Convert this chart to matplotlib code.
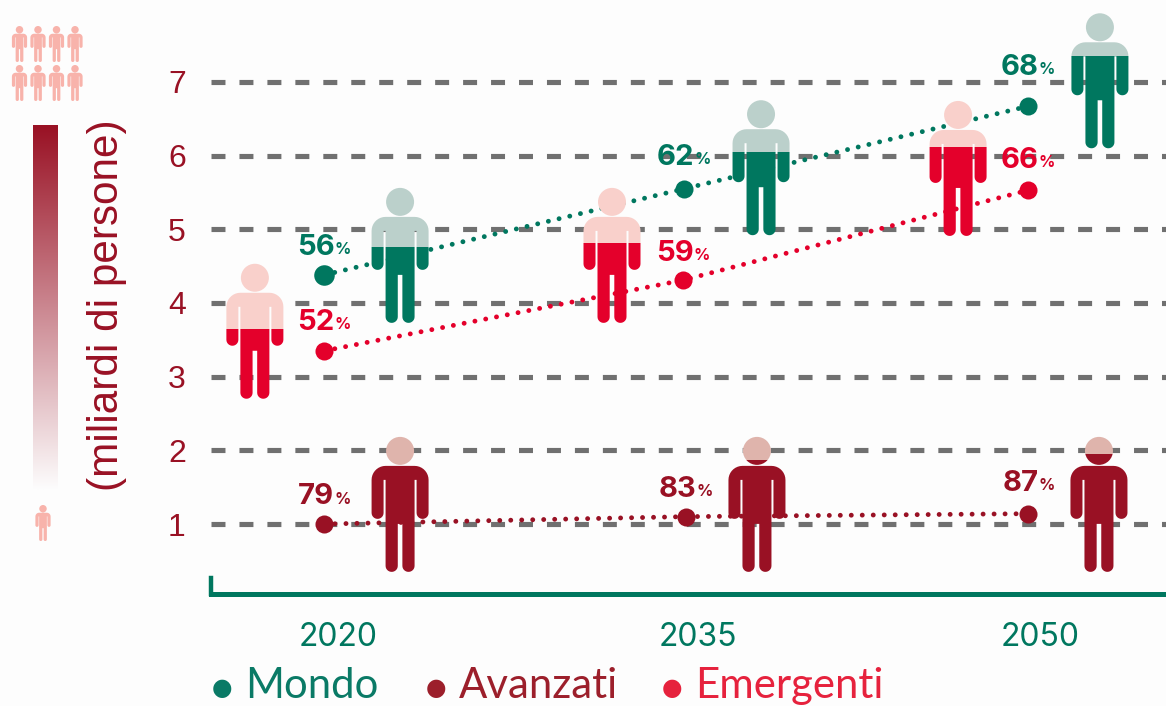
import matplotlib

matplotlib.use("Agg")

import matplotlib.pyplot as plt
import numpy as np
from matplotlib.path import Path
from matplotlib.patches import PathPatch
from matplotlib.transforms import Affine2D
from matplotlib.colors import LinearSegmentedColormap

plt.rcParams["font.family"] = ["Inter", "DejaVu Sans"]

# data
years = ["2020", "2035", "2050"]
world_x = [2020, 2035, 2049.33]
world = [4.38, 5.55, 6.67]
world_pct = [56, 62, 68]
advanced_x = [2020, 2035.08, 2049.33]
advanced = [1.0, 1.10, 1.14]
advanced_pct = [79, 83, 87]
emerging_x = [2020, 2034.96, 2049.33]
emerging = [3.35, 4.31, 5.53]
emerging_pct = [52, 59, 66]
yticks = [1, 2, 3, 4, 5, 6, 7]
year_ticks = [2020.58, 2035.58, 2049.83]

# people: where they stand (x, value at the feet)
world_people_x = [2023.17, 2038.21, 2052.33]
world_people_y = [3.73, 4.92, 6.10]
advanced_people_x = [2023.17, 2038.04, 2052.29]
advanced_people_y = [0.35, 0.35, 0.35]
emerging_people_x = [2017.12, 2032.0, 2046.42]
emerging_people_y = [2.70, 3.73, 4.91]

GREEN, GREEN_L = "#00775F", "#BBD0CB"
DARK, DARK_L = "#991124", "#DFB4AC"
RED, RED_L = "#E4002B", "#F9D0CB"
ICON = "#F8B3AB"
BG = "#FDFDFD"

W, H = 1166, 706
PX_X = 24.0
PX_Y = 73.67

fig = plt.figure(figsize=(W / 100, H / 100), dpi=100, facecolor=BG)
ax = fig.add_axes([211 / W, (H - 594) / H, (W - 211) / W, 594 / H], facecolor="none")
ax.set_xlim(2020 + (211 - 324) / PX_X, 2020 + (W - 324) / PX_X)
ax.set_ylim(1 + (524 - 594) / PX_Y, 1 + 524 / PX_Y)


def person_path():
    # outline in pixels, feet on y=0, 135 high
    t = np.linspace(0, np.pi, 14)
    pts = []
    pts += list(zip(-22.5 - 6 * np.cos(t), 59 - 6 * np.sin(t)))
    pts += [(-16.5, 92), (-14.5, 92), (-14.5, 6)]
    pts += list(zip(-8.4 - 6.1 * np.cos(t), 6 - 6 * np.sin(t)))
    pts += [(-2.3, 48), (2.3, 48), (2.3, 6)]
    pts += list(zip(8.4 - 6.1 * np.cos(t), 6 - 6 * np.sin(t)))
    pts += [(14.5, 92), (16.5, 92), (16.5, 59)]
    pts += list(zip(22.5 - 6 * np.cos(t), 59 - 6 * np.sin(t)))
    # shoulders
    a = np.linspace(0, np.pi / 2, 10)
    pts += list(zip(14.5 + 14 * np.cos(a), 92 + 14 * np.sin(a)))
    pts += list(zip(-14.5 - 14 * np.sin(a), 92 + 14 * np.cos(a)))
    pts.append(pts[0])
    body = Path(np.array(pts), closed=True)
    head = Path.circle((0, 121), 14)
    return Path.make_compound_path(body, head)


PERSON = person_path()


def draw_person(axis, x, y, pct, dark, light):
    px = axis.transData.transform((x, y))
    tr = Affine2D().translate(*px)
    cut = 135 * pct / 100
    for color, lo, hi in ((light, cut, 140), (dark, -2, cut)):
        patch = PathPatch(PERSON, facecolor=color, edgecolor="none",
                          transform=tr, zorder=4)
        axis.add_patch(patch)
        patch.set_clip_path(Path([(-40, lo), (40, lo), (40, hi), (-40, hi), (-40, lo)]), tr)


def draw_icon(px_x, px_y, scale=36 / 135):
    tr = Affine2D().scale(scale).translate(px_x, H - px_y)
    fig.add_artist(PathPatch(PERSON, facecolor=ICON, edgecolor="none", transform=tr))


# grid and axes
ax.set_yticks(yticks)
ax.set_yticklabels([str(v) for v in yticks], fontsize=23, color=DARK, ha="left",
                   family="Liberation Sans")
ax.set_xticks(year_ticks)
ax.set_xticklabels(years, fontsize=23, color=GREEN)
ax.tick_params(axis="y", length=0, pad=31)
ax.tick_params(axis="x", length=0, pad=20)
ax.grid(axis="y", color="#707070", linewidth=3.7, linestyle=(0, (2.72, 2.72)), zorder=1)
ax.set_axisbelow(True)
for side in ("top", "right"):
    ax.spines[side].set_visible(False)
ax.spines["bottom"].set_color(GREEN)
ax.spines["bottom"].set_linewidth(3.6)
ax.spines["left"].set_color(GREEN)
ax.spines["left"].set_linewidth(3.2)
ax.spines["left"].set_bounds(1 + (524 - 594) / PX_Y, 1 + (524 - 578) / PX_Y)

# dotted trend lines with the share of urban people over each point
series = [
    (world_x, world, world_pct, GREEN, [27, 31, 39], 14.8),
    (advanced_x, advanced, advanced_pct, DARK, [27, 27, 30], 13),
    (emerging_x, emerging, emerging_pct, RED, [28, 27, 30], 13),
]
for xs, ys, pcts, color, dys, msize in series:
    ax.plot(xs, ys, color=color, linewidth=3.5, linestyle=(0, (0.01, 2.25)),
            dash_capstyle="round", zorder=2)
    for i in range(3):
        ax.plot(xs[i], ys[i], "o", color=color, markersize=msize if i == 0 else 13,
                markeredgewidth=0, zorder=3)
        ax.annotate(str(pcts[i]), (xs[i], ys[i]), xytext=(7.5, dys[i] * 0.72), textcoords="offset points",
                    ha="right", va="center", fontsize=21, fontweight="bold", color=color, zorder=6)
        ax.annotate("%", (xs[i], ys[i]), xytext=(7.5, (dys[i] - 2) * 0.72), textcoords="offset points",
                    ha="left", va="center", fontsize=11.5, fontweight="bold", color=color, zorder=6)

# people
for i in range(3):
    draw_person(ax, world_people_x[i], world_people_y[i], world_pct[i], GREEN, GREEN_L)
    draw_person(ax, advanced_people_x[i], advanced_people_y[i], advanced_pct[i], DARK, DARK_L)
    draw_person(ax, emerging_people_x[i], emerging_people_y[i], emerging_pct[i], RED, RED_L)

# left hand scale
for px_y in (62, 101):
    for px_x in (19.5, 38, 56.5, 75):
        draw_icon(px_x, px_y)
draw_icon(43, 541)

cax = fig.add_axes([33 / W, (H - 490) / H, 25 / W, 365 / H])
cmap = LinearSegmentedColormap.from_list("fade", [DARK, BG])
cax.imshow(np.linspace(0, 1, 256).reshape(-1, 1), aspect="auto", cmap=cmap)
cax.axis("off")

fig.text(107 / W, (H - 305) / H, "(miliardi di persone)", rotation=90, fontsize=30.4,
         color=DARK, ha="center", va="center", family="Liberation Sans")

# legend row
leg_x = [222, 436, 672]
leg_names = ["Mondo", "Avanzati", "Emergenti"]
leg_colors = ["#0A7A66", "#9C1F2B", "#E6223D"]
for x, name, color in zip(leg_x, leg_names, leg_colors):
    fig.text(x / W, (H - 688) / H, "\u25cf", fontsize=17, color=color, ha="center", va="center",
             family="DejaVu Sans")
    fig.text((x + 23) / W, (H - 686) / H, name, fontsize=30.2, color=color, ha="left", va="center",
             family="Lato")

fig.savefig("out.png", dpi=100, facecolor=BG)
